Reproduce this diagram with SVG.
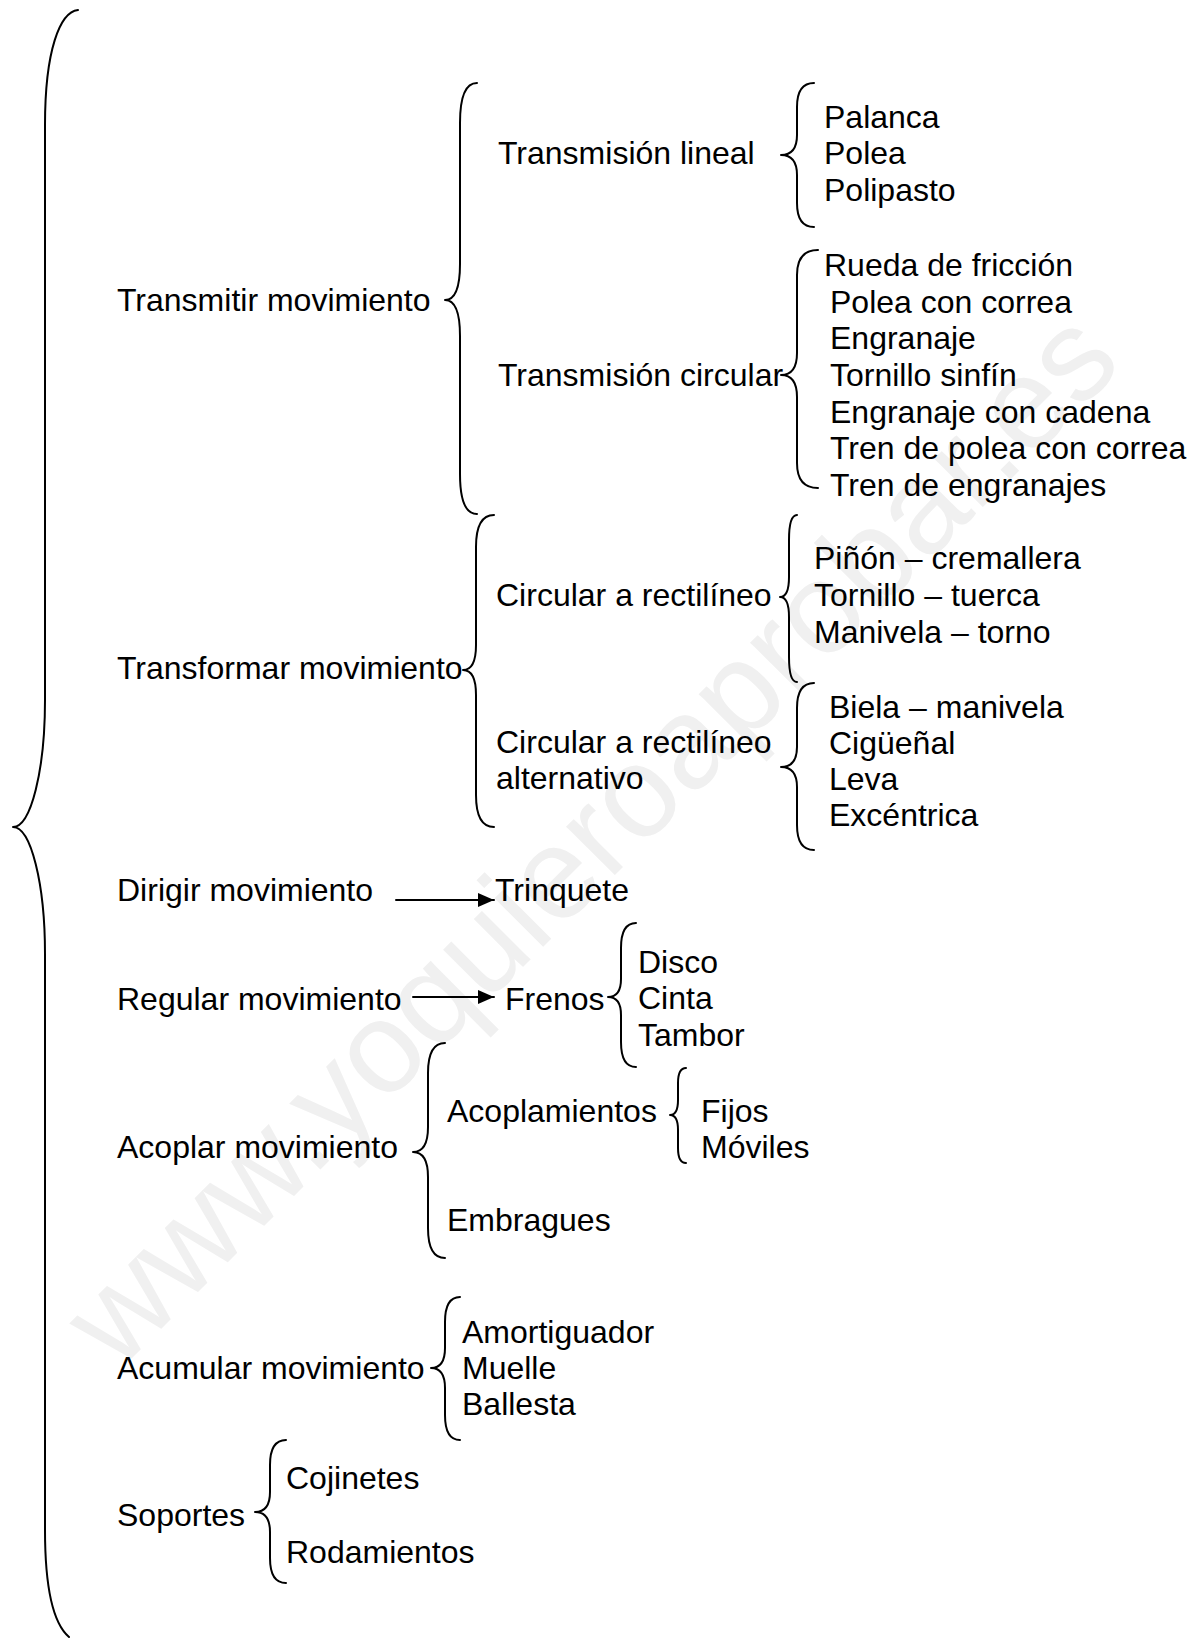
<svg xmlns="http://www.w3.org/2000/svg" width="1197" height="1639" viewBox="0 0 1197 1639">
<style>
.t{font-family:"Liberation Sans",Arial,sans-serif;font-size:32px;fill:#000}
.b{fill:none;stroke:#000;stroke-width:2;stroke-linecap:round;stroke-linejoin:round}
.wm{font-family:"Liberation Sans",Arial,sans-serif;font-size:130px;fill:#f0f0f0}
</style>
<defs>
<marker id="ah" viewBox="0 0 16 14" refX="16" refY="7" markerWidth="16" markerHeight="14" markerUnits="userSpaceOnUse" orient="auto">
<path d="M0,0 L16,7 L0,14 Z" fill="#000"/>
</marker>
</defs>
<rect width="1197" height="1639" fill="#fff"/>
<g id="watermark">
<text class="wm" transform="translate(118,1372) rotate(-45)">www.yoquieroaprobar.es</text>
</g>
<g id="connectors">
<path class="b" d="M78,10 C60,12 45,50 45,125 L45,700 C45,770 31,827 13,827 C31,827 45,884 45,954 L45,1530 C45,1595 55,1625 69,1637"/>
<path class="b" d="M477,83 Q460,83 460,123 L460,264 Q460,300 445,300 Q460,300 460,336 L460,474 Q460,514 477,514"/>
<path class="b" d="M814,83 Q797,83 797,107 L797,135 Q797,155 781,155 Q797,155 797,175 L797,203 Q797,227 814,227"/>
<path class="b" d="M818,250 Q797,250 797,275 L797,353 Q797,375 781,375 Q797,375 797,397 L797,463 Q797,488 818,488"/>
<path class="b" d="M494,515 Q476,515 476,547 L476,645 Q476,670 463,670 Q476,670 476,695 L476,795 Q476,827 494,827"/>
<path class="b" d="M797,515 Q789,515 789,540 L789,577 Q789,597 780,597 Q789,597 789,617 L789,657 Q789,682 797,682"/>
<path class="b" d="M814,683 Q797,683 797,708 L797,747 Q797,767 781,767 Q797,767 797,787 L797,825 Q797,850 814,850"/>
<path class="b" d="M396,900 L494,900" marker-end="url(#ah)"/>
<path class="b" d="M413,997 L494,997" marker-end="url(#ah)"/>
<path class="b" d="M636,923 Q621,923 621,948 L621,979 Q621,997 608,997 Q621,997 621,1015 L621,1042 Q621,1067 636,1067"/>
<path class="b" d="M445,1043 Q428,1043 428,1073 L428,1127 Q428,1152 413,1152 Q428,1152 428,1177 L428,1228 Q428,1258 445,1258"/>
<path class="b" d="M686,1068 Q678,1068 678,1083 L678,1100 Q678,1115 670,1115 Q678,1115 678,1130 L678,1148 Q678,1163 686,1163"/>
<path class="b" d="M460,1297 Q445,1297 445,1322 L445,1348 Q445,1368 431,1368 Q445,1368 445,1388 L445,1415 Q445,1440 460,1440"/>
<path class="b" d="M286,1440 Q270,1440 270,1465 L270,1492 Q270,1512 255,1512 Q270,1512 270,1532 L270,1558 Q270,1583 286,1583"/>
</g>
<g id="n-transmitir"><text class="t" x="117" y="311">Transmitir movimiento</text></g>
<g id="n-trans-lineal"><text class="t" x="498" y="164">Transmisión lineal</text></g>
<g id="n-lineal-items">
<text class="t" x="824" y="128">Palanca</text>
<text class="t" x="824" y="164">Polea</text>
<text class="t" x="824" y="201">Polipasto</text>
</g>
<g id="n-trans-circular"><text class="t" x="498" y="386">Transmisión circular</text></g>
<g id="n-circular-items">
<text class="t" x="824" y="276">Rueda de fricción</text>
<text class="t" x="830" y="313">Polea con correa</text>
<text class="t" x="830" y="349">Engranaje</text>
<text class="t" x="830" y="386">Tornillo sinfín</text>
<text class="t" x="830" y="423">Engranaje con cadena</text>
<text class="t" x="830" y="459">Tren de polea con correa</text>
<text class="t" x="830" y="496">Tren de engranajes</text>
</g>
<g id="n-transformar"><text class="t" x="117" y="679">Transformar movimiento</text></g>
<g id="n-circ-rect"><text class="t" x="496" y="606">Circular a rectilíneo</text></g>
<g id="n-circ-rect-items">
<text class="t" x="814" y="569">Piñón – cremallera</text>
<text class="t" x="814" y="606">Tornillo – tuerca</text>
<text class="t" x="814" y="643">Manivela – torno</text>
</g>
<g id="n-circ-alt">
<text class="t" x="496" y="753">Circular a rectilíneo</text>
<text class="t" x="496" y="789">alternativo</text>
</g>
<g id="n-circ-alt-items">
<text class="t" x="829" y="718">Biela – manivela</text>
<text class="t" x="829" y="754">Cigüeñal</text>
<text class="t" x="829" y="790">Leva</text>
<text class="t" x="829" y="826">Excéntrica</text>
</g>
<g id="n-dirigir"><text class="t" x="117" y="901">Dirigir movimiento</text></g>
<g id="n-trinquete"><text class="t" x="495" y="901">Trinquete</text></g>
<g id="n-regular"><text class="t" x="117" y="1010">Regular movimiento</text></g>
<g id="n-frenos"><text class="t" x="505" y="1010">Frenos</text></g>
<g id="n-frenos-items">
<text class="t" x="638" y="973">Disco</text>
<text class="t" x="638" y="1009">Cinta</text>
<text class="t" x="638" y="1046">Tambor</text>
</g>
<g id="n-acoplar"><text class="t" x="117" y="1158">Acoplar movimiento</text></g>
<g id="n-acoplamientos"><text class="t" x="447" y="1122">Acoplamientos</text></g>
<g id="n-acoplamientos-items">
<text class="t" x="701" y="1122">Fijos</text>
<text class="t" x="701" y="1158">Móviles</text>
</g>
<g id="n-embragues"><text class="t" x="447" y="1231">Embragues</text></g>
<g id="n-acumular"><text class="t" x="117" y="1379">Acumular movimiento</text></g>
<g id="n-acumular-items">
<text class="t" x="462" y="1343">Amortiguador</text>
<text class="t" x="462" y="1379">Muelle</text>
<text class="t" x="462" y="1415">Ballesta</text>
</g>
<g id="n-soportes"><text class="t" x="117" y="1526">Soportes</text></g>
<g id="n-soportes-items">
<text class="t" x="286" y="1489">Cojinetes</text>
<text class="t" x="286" y="1563">Rodamientos</text>
</g>
</svg>
